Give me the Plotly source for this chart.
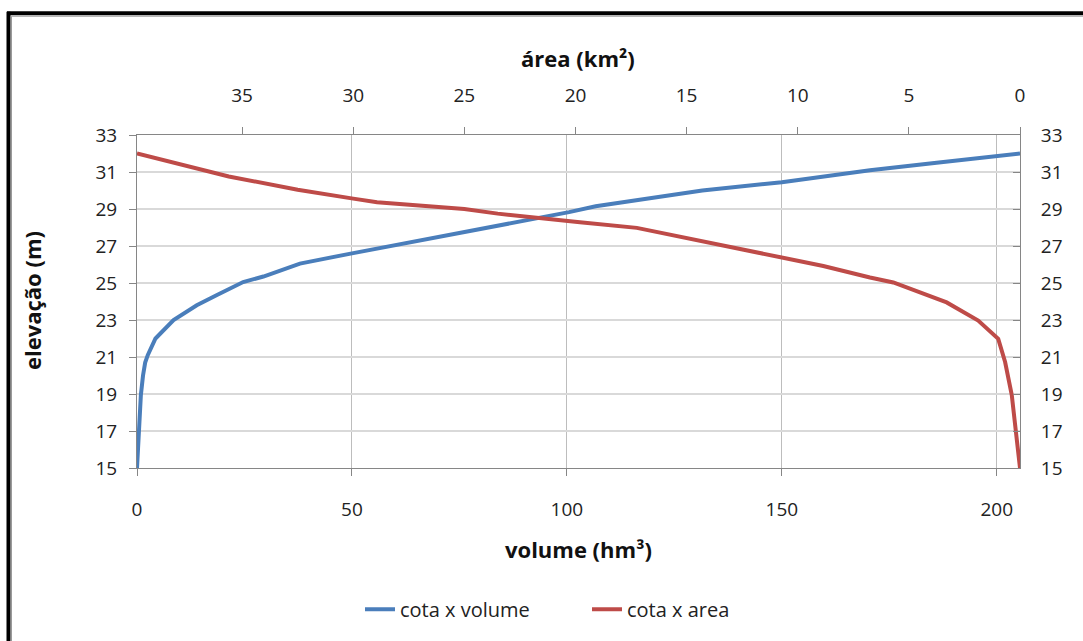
import plotly.graph_objects as go

# --- data ---
elev_vol = [15, 17.15, 18.95, 20.0, 20.7, 21.1, 22.0, 23.0, 23.8, 24.35, 25.05, 25.35,
            26.05, 26.6, 27.05, 27.75, 28.1, 28.52, 28.83, 29.15, 29.47, 30.0, 30.45, 31.1, 31.5, 32.0]
volume = [0, 0.4, 0.9, 1.4, 1.9, 2.5, 4.3, 8.5, 13.9, 18.6, 24.7, 29.4,
          37.9, 50, 60.3, 75.8, 83.5, 93.6, 100.5, 106.7, 116, 131.5, 150, 170.5, 186, 205.4]

elev_area = [15, 17.15, 18.94, 20.73, 21.98, 22.97, 23.95, 25.03, 25.3, 25.92, 26.37, 27.27,
             27.98, 28.29, 28.52, 28.75, 29.0, 29.15, 29.36, 29.56, 30.04, 30.76, 31.2, 32.0]
area = [0, 0.22, 0.37, 0.67, 0.98, 1.88, 3.30, 5.70, 6.75, 8.85, 10.72, 14.26,
        17.24, 19.8, 21.6, 23.5, 25.0, 26.5, 28.93, 30.0, 32.5, 35.6, 37.05, 39.73]

y_ticks = [15, 17, 19, 21, 23, 25, 27, 29, 31, 33]
vol_ticks = [0, 50, 100, 150, 200]
area_ticks = [0, 5, 10, 15, 20, 25, 30, 35]

BLUE = "#4a7ebb"
RED = "#be4b48"
FONT = "Open Sans"
AX = "#868686"

W, H = 1083, 641
L, R, T, B = 137, 1020, 135, 470


def px(x):
    return (x - L) / (R - L)


def py(y):
    return (B - y) / (B - T)


fig = go.Figure()
fig.add_trace(go.Scatter(x=volume, y=elev_vol, mode="lines", name="cota x volume",
                         line=dict(color=BLUE, width=4), xaxis="x", yaxis="y"))
fig.add_trace(go.Scatter(x=area, y=elev_area, mode="lines", name="cota x area",
                         line=dict(color=RED, width=4), xaxis="x2", yaxis="y2"))

tickfont = dict(family=FONT, size=19, color="#222222")

fig.update_layout(
    width=W, height=H,
    margin=dict(l=L, r=W - R, t=T, b=H - B),
    paper_bgcolor="white", plot_bgcolor="white",
    font=dict(family=FONT, color="#222222"),
    showlegend=True,
    legend=dict(orientation="h", x=px(587), y=py(612), xanchor="center", yanchor="middle",
                font=dict(family=FONT, size=20, color="#222222"),
                bgcolor="rgba(0,0,0,0)", entrywidth=182, entrywidthmode="pixels",
                tracegroupgap=0),
    xaxis=dict(range=[0, 205.4], tickvals=vol_ticks, showgrid=True, gridcolor="#bdbdbd",
               gridwidth=1, zeroline=False, showline=True, linecolor=AX, linewidth=1,
               ticks="outside", ticklen=7, tickcolor=AX, tickfont=tickfont,
               ticklabelstandoff=17),
    xaxis2=dict(range=[39.73, 0], tickvals=area_ticks, overlaying="x", side="top",
                anchor="y", showgrid=False, zeroline=False, showline=True, linecolor=AX,
                linewidth=1, ticks="outside", ticklen=7, tickcolor=AX, tickfont=tickfont,
                ticklabelstandoff=17),
    yaxis=dict(range=[15, 33], tickvals=y_ticks, showgrid=True, gridcolor="#d9d9d9",
               gridwidth=1.5, zeroline=False, showline=True, linecolor=AX, linewidth=1,
               ticks="outside", ticklen=7, tickcolor=AX, tickfont=tickfont,
               ticklabelstandoff=8),
    yaxis2=dict(range=[15, 33], tickvals=y_ticks, overlaying="y", side="right",
                anchor="x", showgrid=False, zeroline=False, showline=True, linecolor=AX,
                linewidth=1, ticks="inside", ticklen=7, tickcolor=AX, tickfont=tickfont,
                ticklabelstandoff=16),
)

# axis titles
title_font = dict(family=FONT, size=22, color="#111111", weight="bold")
fig.add_annotation(text="área (km²)", x=px(578), y=py(58), xref="paper", yref="paper",
                   showarrow=False, font=title_font, xanchor="center", yanchor="middle")
fig.add_annotation(text="volume (hm³)", x=px(578), y=py(551), xref="paper", yref="paper",
                   showarrow=False, font=title_font, xanchor="center", yanchor="middle")
fig.add_annotation(text="elevação (m)", x=px(32), y=py(302), xref="paper", yref="paper",
                   showarrow=False, font=title_font, textangle=-90,
                   xanchor="center", yanchor="middle")

# frame (black border with thin grey inner line)
fig.add_shape(type="line", xref="paper", yref="paper", x0=px(7), x1=px(1090),
              y0=py(12.5), y1=py(12.5), line=dict(color="black", width=4))
fig.add_shape(type="line", xref="paper", yref="paper", x0=px(8.5), x1=px(8.5),
              y0=py(11), y1=py(650), line=dict(color="black", width=4))
fig.add_shape(type="line", xref="paper", yref="paper", x0=px(11.5), x1=px(1090),
              y0=py(15.5), y1=py(15.5), line=dict(color="#9a9a9a", width=1))
fig.add_shape(type="line", xref="paper", yref="paper", x0=px(11.5), x1=px(11.5),
              y0=py(15.5), y1=py(650), line=dict(color="#9a9a9a", width=1))

fig.write_html("out.html")
